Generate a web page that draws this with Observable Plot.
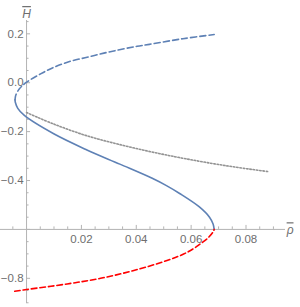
<!DOCTYPE html>
<html><head><meta charset="utf-8">
<script src="https://cdn.jsdelivr.net/npm/d3@7"></script>
<script src="https://cdn.jsdelivr.net/npm/@observablehq/plot@0.6"></script>
<style>
html,body{margin:0;padding:0;background:#fff;}
.ovl text{text-decoration:overline;}
</style></head><body><div id="chart"></div>
<script>
// Blue branch, dashed part (from fold point upward)
const upperRho = [-0.0042, -0.0041, -0.0039, -0.0026, 0.0000, 0.0051, 0.0099, 0.0160, 0.0221, 0.0282, 0.0343, 0.0403, 0.0448, 0.0570, 0.0684];
const upperH   = [-0.070, -0.060, -0.050, -0.025, 0.002, 0.036, 0.063, 0.088, 0.104, 0.121, 0.136, 0.149, 0.157, 0.180, 0.197];
// Blue branch, solid part (from fold point down to the tip)
const solidRho = [-0.0042, -0.0041, -0.0032, -0.0008, 0.0099, 0.0220, 0.0340, 0.0460, 0.0510, 0.0558, 0.0630, 0.0667, 0.0680, 0.0684];
const solidH   = [-0.070, -0.080, -0.105, -0.134, -0.209, -0.275, -0.333, -0.392, -0.421, -0.453, -0.508, -0.550, -0.578, -0.600];
// Red dashed branch (from left edge up to the tip)
const redRho = [-0.0043, 0.0000, 0.0148, 0.0270, 0.0391, 0.0512, 0.0585, 0.0634, 0.0664, 0.0680, 0.0684];
const redH   = [-0.853, -0.846, -0.823, -0.800, -0.768, -0.727, -0.694, -0.659, -0.632, -0.610, -0.600];
// Gray dotted curve
const grayRho = [0.0000, 0.0099, 0.0220, 0.0340, 0.0460, 0.0580, 0.0730, 0.0884];
const grayH   = [-0.122, -0.169, -0.217, -0.253, -0.284, -0.311, -0.340, -0.364];

// Axes (axes cross at rho = 0, H = -0.6)
const axisOriginX = 0;
const axisOriginY = -0.6;
const xMajorTicks = [0.02, 0.04, 0.06, 0.08];
const xMinorTicks = [-0.005, 0.005, 0.01, 0.015, 0.025, 0.03, 0.035, 0.045, 0.05, 0.055, 0.065, 0.07, 0.075, 0.085, 0.09];
const yMajorTicks = [0.2, 0.0, -0.2, -0.4, -0.6, -0.8];
const yTickLabels = [0.2, 0.0, -0.2, -0.4, -0.8];
const yMinorTicks = [0.25, 0.15, 0.1, 0.05, -0.05, -0.1, -0.15, -0.25, -0.3, -0.35, -0.45, -0.5, -0.55, -0.65, -0.7, -0.75, -0.85, -0.9];

const pts = (r, h) => r.map((v, i) => ({rho: v, H: h[i]}));
const fmt2 = d => d.toFixed(2);
const fmt1 = d => (d < 0 ? "\u2212" : "") + Math.abs(d).toFixed(1);

const blue = "#5E81B5";
const axisColor = "#b3b3b3";
const labelColor = "#6e6e6e";

const plot = Plot.plot({
  width: 300, height: 307,
  marginLeft: 0, marginRight: 15, marginTop: 20, marginBottom: 4,
  x: {domain: [-0.0095, 0.0944], axis: null},
  y: {domain: [-0.903, 0.2545], axis: null},
  style: {fontFamily: "'Liberation Sans', Arial, sans-serif", fontSize: "11.5px", background: "#fff", overflow: "visible"},
  marks: [
    Plot.ruleY([axisOriginY], {stroke: axisColor, strokeWidth: 1}),
    Plot.ruleX([axisOriginX], {stroke: axisColor, strokeWidth: 1}),
    Plot.ruleX(xMajorTicks, {x: d => d, y1: () => axisOriginY, y2: () => axisOriginY, insetTop: -4, stroke: axisColor}),
    Plot.ruleX(xMinorTicks, {x: d => d, y1: () => axisOriginY, y2: () => axisOriginY, insetTop: -2.5, stroke: axisColor}),
    Plot.ruleY(yMajorTicks, {y: d => d, x1: () => axisOriginX, x2: () => axisOriginX, insetRight: -4, stroke: axisColor}),
    Plot.ruleY(yMinorTicks, {y: d => d, x1: () => axisOriginX, x2: () => axisOriginX, insetRight: -2.5, stroke: axisColor}),
    Plot.text(xMajorTicks, {x: d => d, y: () => axisOriginY, dy: 10, text: fmt2, fill: labelColor}),
    Plot.text(yTickLabels, {x: () => axisOriginX, y: d => d, dx: -3, textAnchor: "end", text: fmt1, fill: labelColor}),
    Plot.text(["H"], {x: () => axisOriginX, frameAnchor: "top", dy: -11, text: d => d, fontStyle: "italic", fill: labelColor, fontSize: 12, className: "ovl"}),
    Plot.text(["\u03C1"], {y: () => axisOriginY, frameAnchor: "right", dx: 8, dy: 1, text: d => d, fontStyle: "italic", fill: labelColor, fontSize: 12, className: "ovl"}),
    Plot.line(pts(grayRho, grayH), {x: "rho", y: "H", stroke: "#939393", strokeWidth: 1.6, strokeDasharray: "1.5,1.8", curve: "catmull-rom"}),
    Plot.line(pts(upperRho, upperH), {x: "rho", y: "H", stroke: blue, strokeWidth: 1.6, strokeDasharray: "6,3.2", curve: "catmull-rom"}),
    Plot.line(pts(solidRho, solidH), {x: "rho", y: "H", stroke: blue, strokeWidth: 1.6, curve: "catmull-rom"}),
    Plot.line(pts(redRho, redH), {x: "rho", y: "H", stroke: "#ff0000", strokeWidth: 1.6, strokeDasharray: "5.5,3", curve: "catmull-rom"})
  ]
});
document.getElementById("chart").appendChild(plot);
</script>
</body></html>
